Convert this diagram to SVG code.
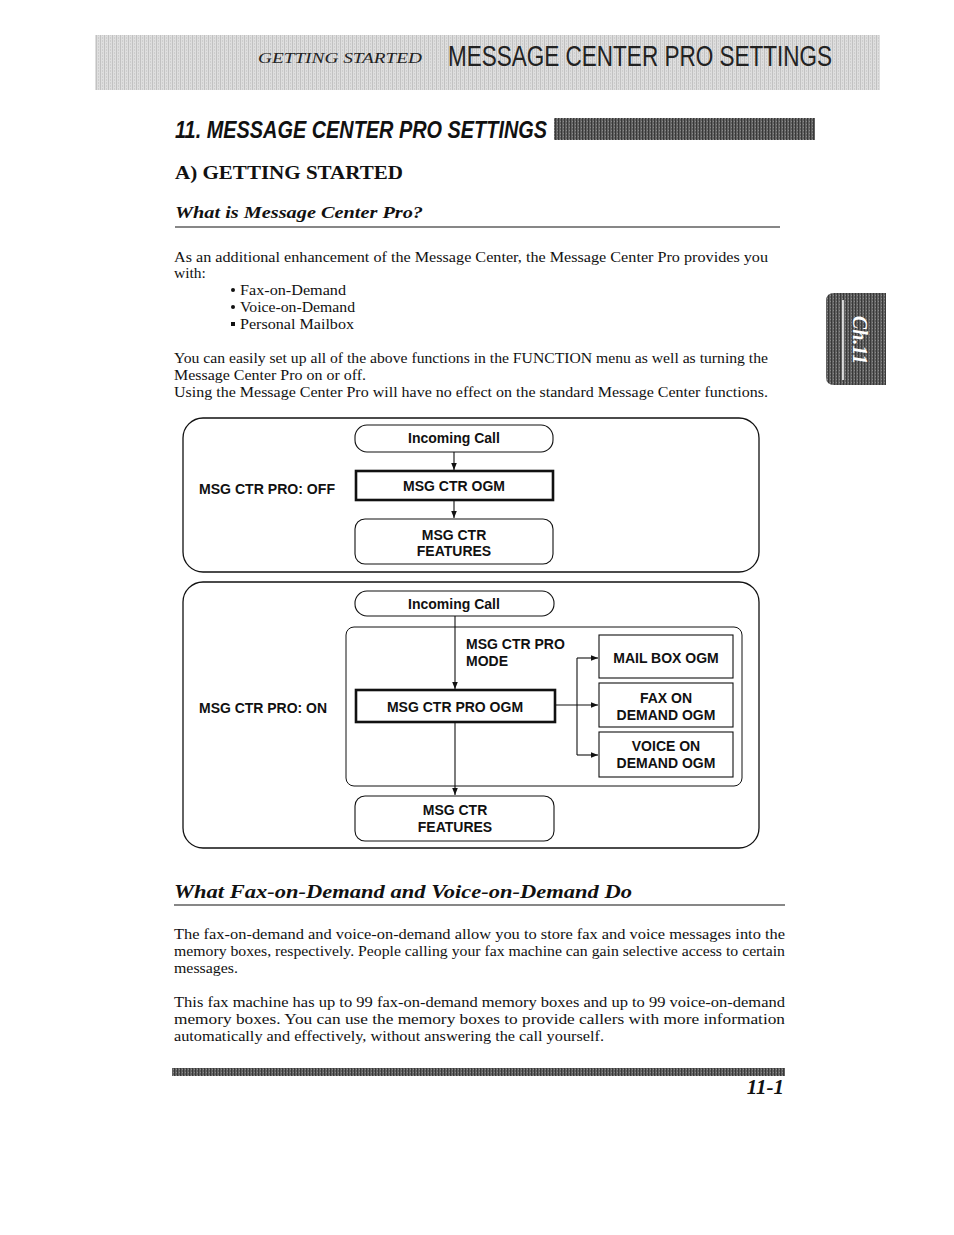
<svg xmlns="http://www.w3.org/2000/svg" width="954" height="1235" viewBox="0 0 954 1235">
<style>
.body{font-family:"Liberation Serif",serif;font-size:15.5px;fill:#111}
.dg{font-family:"Liberation Sans",Arial,sans-serif;font-weight:bold;font-size:14px;fill:#111}
.ln{fill:none;stroke:#111;stroke-width:1.3}
.box{fill:#fff;stroke:#111;stroke-width:1.1}
.thick{fill:#fff;stroke:#111;stroke-width:2.6}
</style>
<defs>
<pattern id="noise" width="4" height="3" patternUnits="userSpaceOnUse">
<rect width="4" height="3" fill="#dedede"/>
<rect x="0" y="0" width="1" height="3" fill="#c2c2c2"/>
<rect x="2" y="1" width="1" height="2" fill="#cdcdcd"/>
</pattern>
<pattern id="dark" width="3" height="3" patternUnits="userSpaceOnUse">
<rect width="3" height="3" fill="#626262"/>
<rect x="0" y="0" width="1" height="3" fill="#383838"/>
<rect x="2" y="1" width="1" height="1" fill="#8a8a8a"/>
</pattern>
<marker id="ah" viewBox="0 0 10 10" refX="10" refY="5" markerWidth="7" markerHeight="7" markerUnits="userSpaceOnUse" orient="auto">
<path d="M0,1 L10,5 L0,9 Z" fill="#111"/>
</marker>
</defs>
<rect width="954" height="1235" fill="#fff"/>

<!-- header band -->
<g id="header">
<rect x="95" y="35" width="785" height="55" fill="url(#noise)"/>
<text x="258" y="63" font-family="Liberation Serif,serif" font-style="italic" font-size="15" font-variant="small-caps" fill="#222" textLength="164" lengthAdjust="spacingAndGlyphs">GETTING STARTED</text>
<text x="448" y="66" font-family="Liberation Sans,Arial,sans-serif" font-size="29" fill="#222" textLength="384" lengthAdjust="spacingAndGlyphs">MESSAGE CENTER PRO SETTINGS</text>
</g>

<!-- titles -->
<g id="titles">
<text x="175" y="138" font-family="Liberation Sans,Arial,sans-serif" font-weight="bold" font-style="italic" font-size="23" fill="#111" textLength="372" lengthAdjust="spacingAndGlyphs">11. MESSAGE CENTER PRO SETTINGS</text>
<rect x="554" y="118" width="261" height="22" fill="url(#dark)"/>
<text x="175" y="179" font-family="Liberation Serif,serif" font-weight="bold" font-size="19" fill="#111" textLength="228" lengthAdjust="spacingAndGlyphs">A) GETTING STARTED</text>
<text x="175" y="218" font-family="Liberation Serif,serif" font-weight="bold" font-style="italic" font-size="17" fill="#111" textLength="248" lengthAdjust="spacingAndGlyphs">What is Message Center Pro?</text>
<line x1="175" y1="227" x2="780" y2="227" stroke="#111" stroke-width="1.2"/>
</g>

<!-- chapter tab -->
<g id="tab">
<path d="M834,293 H886 V385 H834 Q826,385 826,377 V301 Q826,293 834,293 Z" fill="url(#dark)"/>
<line x1="843" y1="300" x2="843" y2="380" stroke="#fff" stroke-width="1.5"/>
<text transform="translate(853,340) rotate(90)" text-anchor="middle" font-family="Liberation Serif,serif" font-weight="bold" font-style="italic" font-size="20" fill="#fff">Ch.11</text>
</g>

<!-- intro text -->
<g id="intro" class="body">
<text x="174" y="262" textLength="594" lengthAdjust="spacingAndGlyphs">As an additional enhancement of the Message Center, the Message Center Pro provides you</text>
<text x="174" y="278">with:</text>
<circle cx="233" cy="290" r="2" fill="#111"/>
<text x="240" y="295" textLength="106" lengthAdjust="spacingAndGlyphs">Fax-on-Demand</text>
<circle cx="233" cy="307" r="2" fill="#111"/>
<text x="240" y="312" textLength="115" lengthAdjust="spacingAndGlyphs">Voice-on-Demand</text>
<rect x="231" y="322" width="4" height="4" fill="#111"/>
<text x="240" y="329" textLength="114" lengthAdjust="spacingAndGlyphs">Personal Mailbox</text>
<text x="174" y="363" textLength="594" lengthAdjust="spacingAndGlyphs">You can easily set up all of the above functions in the FUNCTION menu as well as turning the</text>
<text x="174" y="380" textLength="192" lengthAdjust="spacingAndGlyphs">Message Center Pro on or off.</text>
<text x="174" y="397" textLength="594" lengthAdjust="spacingAndGlyphs">Using the Message Center Pro will have no effect on the standard Message Center functions.</text>
</g>

<!-- diagram 1: OFF -->
<g id="frame-off">
<rect x="183" y="418" width="576" height="154" rx="20" class="ln"/>
<text x="199" y="494" class="dg" textLength="136" lengthAdjust="spacingAndGlyphs">MSG CTR PRO: OFF</text>
</g>
<g id="off-incoming">
<rect x="355" y="425" width="198" height="27" rx="12" class="box"/>
<text x="454" y="443" class="dg" font-size="11.5" text-anchor="middle">Incoming Call</text>
</g>
<g id="off-ogm">
<rect x="356" y="471" width="197" height="29" class="thick"/>
<text x="454" y="491" class="dg" text-anchor="middle">MSG CTR OGM</text>
</g>
<g id="off-features">
<rect x="355" y="519" width="198" height="45" rx="10" class="box"/>
<text x="454" y="540" class="dg" text-anchor="middle">MSG CTR</text>
<text x="454" y="556" class="dg" text-anchor="middle">FEATURES</text>
</g>

<!-- diagram 2: ON -->
<g id="frame-on">
<rect x="183" y="582" width="576" height="266" rx="20" class="ln"/>
<text x="199" y="713" class="dg" textLength="128" lengthAdjust="spacingAndGlyphs">MSG CTR PRO: ON</text>
</g>
<g id="pro-mode">
<rect x="346" y="627" width="396" height="159" rx="8" fill="none" stroke="#111" stroke-width="1"/>
<text x="466" y="649" class="dg">MSG CTR PRO</text>
<text x="466" y="666" class="dg">MODE</text>
</g>
<g id="on-incoming">
<rect x="355" y="591" width="199" height="25" rx="12" class="box"/>
<text x="454" y="609" class="dg" font-size="13.5" text-anchor="middle">Incoming Call</text>
</g>
<g id="on-ogm">
<rect x="356" y="690" width="199" height="32" class="thick"/>
<text x="455" y="712" class="dg" text-anchor="middle">MSG CTR PRO OGM</text>
</g>
<g id="mailbox">
<rect x="599" y="635" width="134" height="43" class="box" stroke-width="1.5"/>
<text x="666" y="663" class="dg" text-anchor="middle">MAIL BOX OGM</text>
</g>
<g id="fax">
<rect x="599" y="683" width="134" height="44" class="box" stroke-width="1.5"/>
<text x="666" y="703" class="dg" text-anchor="middle">FAX ON</text>
<text x="666" y="720" class="dg" text-anchor="middle">DEMAND OGM</text>
</g>
<g id="voice">
<rect x="599" y="732" width="134" height="45" class="box" stroke-width="1.5"/>
<text x="666" y="751" class="dg" text-anchor="middle">VOICE ON</text>
<text x="666" y="768" class="dg" text-anchor="middle">DEMAND OGM</text>
</g>
<g id="on-features">
<rect x="355" y="796" width="199" height="45" rx="10" class="box"/>
<text x="455" y="815" class="dg" text-anchor="middle">MSG CTR</text>
<text x="455" y="832" class="dg" text-anchor="middle">FEATURES</text>
</g>

<!-- connectors -->
<g id="connectors" fill="none" stroke="#111" stroke-width="1.1">
<line x1="454" y1="452" x2="454" y2="470" marker-end="url(#ah)"/>
<line x1="454" y1="500" x2="454" y2="518" marker-end="url(#ah)"/>
<line x1="455" y1="616" x2="455" y2="689" marker-end="url(#ah)"/>
<line x1="455" y1="722" x2="455" y2="795" marker-end="url(#ah)"/>
<line x1="555" y1="705" x2="598" y2="705" marker-end="url(#ah)"/>
<line x1="577" y1="658" x2="577" y2="755"/>
<line x1="577" y1="658" x2="598" y2="658" marker-end="url(#ah)"/>
<line x1="577" y1="755" x2="598" y2="755" marker-end="url(#ah)"/>
</g>

<!-- second section -->
<g id="section2">
<text x="174" y="898" font-family="Liberation Serif,serif" font-weight="bold" font-style="italic" font-size="19.5" fill="#111" textLength="458" lengthAdjust="spacingAndGlyphs">What Fax-on-Demand and Voice-on-Demand Do</text>
<line x1="174" y1="905" x2="785" y2="905" stroke="#111" stroke-width="1.2"/>
<g class="body">
<text x="174" y="939" textLength="611" lengthAdjust="spacingAndGlyphs">The fax-on-demand and voice-on-demand allow you to store fax and voice messages into the</text>
<text x="174" y="956" textLength="611" lengthAdjust="spacingAndGlyphs">memory boxes, respectively. People calling your fax machine can gain selective access to certain</text>
<text x="174" y="973" textLength="64" lengthAdjust="spacingAndGlyphs">messages.</text>
<text x="174" y="1007" textLength="611" lengthAdjust="spacingAndGlyphs">This fax machine has up to 99 fax-on-demand memory boxes and up to 99 voice-on-demand</text>
<text x="174" y="1024" textLength="611" lengthAdjust="spacingAndGlyphs">memory boxes. You can use the memory boxes to provide callers with more information</text>
<text x="174" y="1041" textLength="430" lengthAdjust="spacingAndGlyphs">automatically and effectively, without answering the call yourself.</text>
</g>
</g>

<!-- footer -->
<g id="footer">
<rect x="172" y="1068" width="613" height="8" fill="url(#dark)"/>
<text x="784" y="1094" text-anchor="end" font-family="Liberation Serif,serif" font-weight="bold" font-style="italic" font-size="21" fill="#111">11-1</text>
</g>
</svg>
